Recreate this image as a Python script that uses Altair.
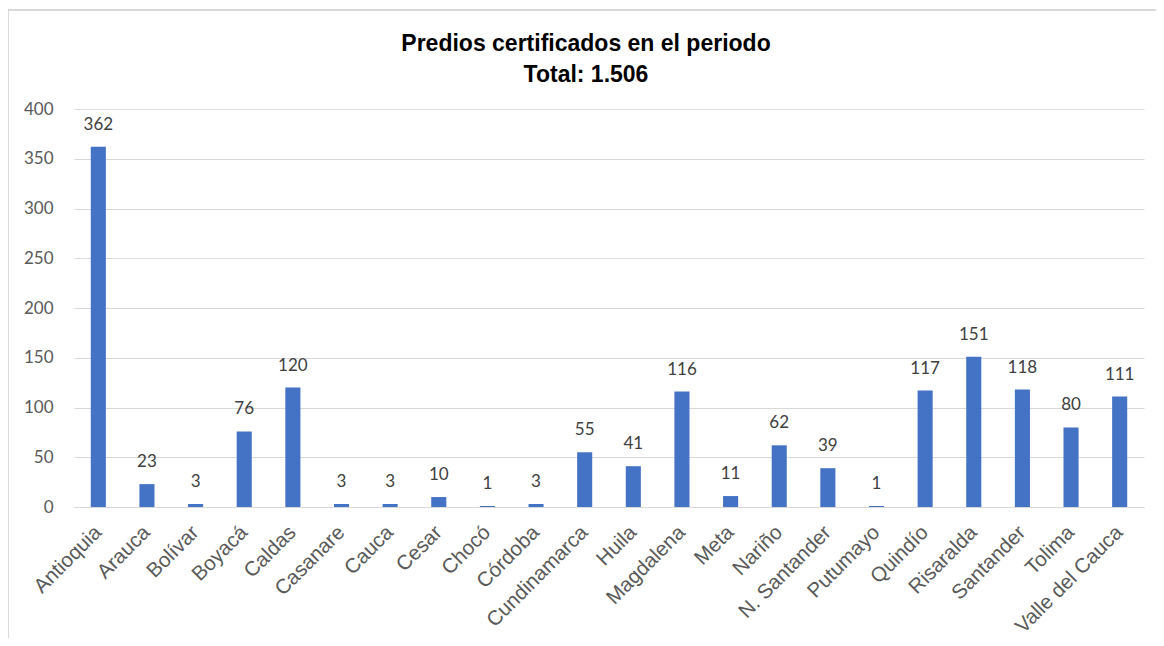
import altair as alt
import pandas as pd

departamentos = ["Antioquia", "Arauca", "Bolívar", "Boyacá", "Caldas", "Casanare", "Cauca",
                 "Cesar", "Chocó", "Córdoba", "Cundinamarca", "Huila", "Magdalena", "Meta",
                 "Nariño", "N. Santander", "Putumayo", "Quindío", "Risaralda", "Santander",
                 "Tolima", "Valle del Cauca"]
predios = [362, 23, 3, 76, 120, 3, 3, 10, 1, 3, 55, 41, 116, 11, 62, 39, 1, 117, 151, 118, 80, 111]
y_ticks = [0, 50, 100, 150, 200, 250, 300, 350, 400]
title_lines = ["Predios certificados en el periodo", "Total: 1.506"]

df = pd.DataFrame({"Departamento": departamentos, "Predios": predios})
title_df = pd.DataFrame({"line": title_lines})

W, H = 1070, 398

x_enc = alt.X("Departamento:N", sort=departamentos, title=None,
              scale=alt.Scale(paddingInner=0.69, paddingOuter=0.345),
              axis=alt.Axis(labelAngle=-45, labelFont="Liberation Sans", labelFontSize=20.5,
                            labelColor="#595959", labelAlign="right", labelBaseline="middle",
                            ticks=False, domain=True,
                            domainColor="#D9D9D9", domainWidth=1, labelPadding=22))
y_enc = alt.Y("Predios:Q", title=None,
              scale=alt.Scale(domain=[0, 400], nice=False),
              axis=alt.Axis(values=y_ticks, labelFont="Lato", labelFontSize=17,
                            labelColor="#595959", ticks=False, domain=False,
                            gridColor="#D9D9D9", gridWidth=1, labelPadding=21))

base = alt.Chart(df)

bars = base.mark_bar(color="#4472C4").encode(x=x_enc, y=y_enc)
labels = base.mark_text(dy=-22, font="Lato", fontSize=17, color="#404040").encode(
    x=x_enc, y=y_enc, text="Predios:Q")

border = base.mark_rect(fill=None, stroke="#D9D9D9", strokeWidth=1.5, clip=False).encode(
    x=alt.value(-66), x2=alt.value(W + 40), y=alt.value(-99), y2=alt.value(H + 200))

title1 = alt.Chart(title_df).transform_filter(alt.datum.line == title_lines[0]).mark_text(
    font="Liberation Sans", fontSize=23, fontWeight="bold", color="#000000",
    align="center", baseline="alphabetic").encode(
    x=alt.value(512), y=alt.value(-58), text="line:N")
title2 = alt.Chart(title_df).transform_filter(alt.datum.line == title_lines[1]).mark_text(
    font="Liberation Sans", fontSize=23, fontWeight="bold", color="#000000",
    align="center", baseline="alphabetic").encode(
    x=alt.value(512), y=alt.value(-27), text="line:N")

chart = alt.layer(border, bars, labels, title1, title2).properties(
    width=W, height=H,
    autosize=alt.AutoSizeParams(type="none"),
    padding={"left": 66, "top": 101, "right": 12, "bottom": 131},
).configure_view(stroke=None)

chart.save("out.html", embed_options={"renderer": "svg", "actions": False})
